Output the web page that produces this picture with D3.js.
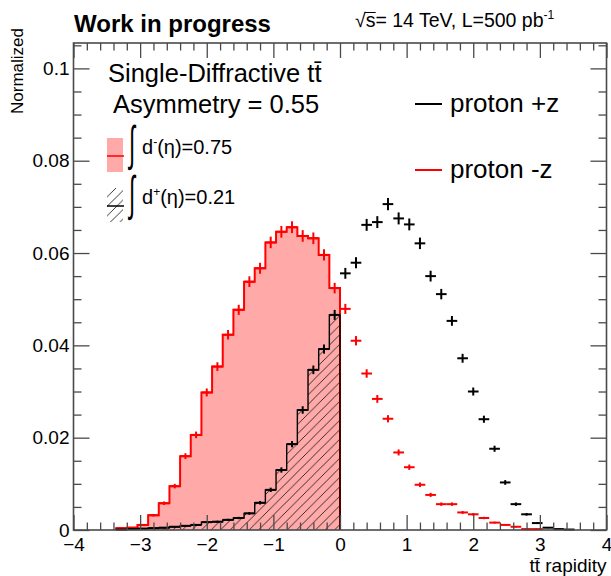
<!DOCTYPE html>
<html><head><meta charset="utf-8">
<script src="https://cdn.jsdelivr.net/npm/d3@7"></script>
<style>
html,body{margin:0;padding:0;background:#fff;}
svg{display:block;font-family:"Liberation Sans",Arial,Helvetica,sans-serif;}
</style></head><body>
<svg id="c" width="611" height="576"></svg>
<script>
// rapidity binning: 50 bins of 0.16 on [-4, 4]
const binWidth = 0.16;
const negCenters = [-3.28,-3.12,-2.96,-2.80,-2.64,-2.48,-2.32,-2.16,-2.00,-1.84,-1.68,-1.52,-1.36,-1.20,-1.04,-0.88,-0.72,-0.56,-0.40,-0.24,-0.08];
const posCenters = [0.08,0.24,0.40,0.56,0.72,0.88,1.04,1.20,1.36,1.52,1.68,1.84,2.00,2.16,2.32,2.48,2.64,2.80,2.96,3.12,3.28,3.44];

// proton -z (red)
const minusNeg    = [0.0004,0.0005,0.0011,0.0032,0.0058,0.0095,0.0160,0.0206,0.0298,0.0354,0.0423,0.0477,0.0538,0.0567,0.0623,0.0646,0.0656,0.0637,0.0632,0.0596,0.0524];
const minusNegErr = [0.0001,0.00011,0.00017,0.00028,0.00038,0.00049,0.00063,0.00072,0.00086,0.00094,0.00103,0.00109,0.00116,0.00119,0.00125,0.00127,0.00128,0.00126,0.00126,0.00122,0.00114];
const minusPos    = [0.0479,0.0410,0.0339,0.0284,0.0241,0.0168,0.0136,0.0098,0.0076,0.0056,0.0056,0.0038,0.0034,0.0026,0.0016,0.0011,0.0007,0.0002,0.0002];
const minusPosErr = [0.00109,0.00101,0.00092,0.00084,0.00078,0.00065,0.00058,0.0005,0.00044,0.00037,0.00037,0.00031,0.00029,0.00026,0.0002,0.00017,0.00013,0.00007,0.00007];

// proton +z (black)
const plusNeg    = [0.0001,0.0002,0.0003,0.0004,0.0005,0.0007,0.0009,0.0011,0.0017,0.0018,0.0022,0.0026,0.0036,0.0059,0.0087,0.0130,0.0186,0.0260,0.0347,0.0392,0.0466];
const plusNegErr = [0.00005,0.00007,0.00009,0.0001,0.00011,0.00013,0.00015,0.00017,0.00021,0.00021,0.00023,0.00025,0.0003,0.00038,0.00047,0.00057,0.00068,0.00081,0.00093,0.00099,0.00108];
const plusPos    = [0.0556,0.0579,0.0661,0.0667,0.0706,0.0675,0.0662,0.0621,0.0550,0.0511,0.0453,0.0372,0.0300,0.0240,0.0176,0.0103,0.0056,0.0034,0.0015,0.0005,0.0002,0.0001];
const plusPosErr = [0.00118,0.0012,0.00129,0.00129,0.00133,0.0013,0.00129,0.00125,0.00117,0.00113,0.00106,0.00096,0.00087,0.00077,0.00066,0.00051,0.00037,0.00029,0.00019,0.00011,0.00007,0.00005];

const xTicks = [-4,-3,-2,-1,0,1,2,3,4];
const xTickLabels = ["\u22124","\u22123","\u22122","\u22121","0","1","2","3","4"];
const yTicks = [0,0.02,0.04,0.06,0.08,0.1];
const yTickLabels = ["0","0.02","0.04","0.06","0.08","0.1"];

const RED = "#ff0000";
const PINK = "#ffa9a9";
const AXC = "#4a4a4a";

const svg = d3.select("#c");
const frame = {l:73.5, r:606.5, t:43, b:530};
const x = d3.scaleLinear().domain([-4,4]).range([frame.l, frame.r]);
const y = d3.scaleLinear().domain([0,0.1055]).range([frame.b, frame.t]);

// 45-degree hatching for the +z histogram
const defs = svg.append("defs");
const hs = 9.5;
const hatch = defs.append("pattern").attr("id","hatch").attr("patternUnits","userSpaceOnUse")
  .attr("width",hs).attr("height",hs);
hatch.append("path").attr("d",`M0,${hs} L${hs},0 M${-hs/2},${hs/2} L${hs/2},${-hs/2} M${hs/2},${hs*1.5} L${hs*1.5},${hs/2}`)
  .attr("stroke","#222").attr("stroke-width",0.9).attr("fill","none");

// step histogram helpers
function stepPoints(centers, vals){
  const pts = [[centers[0]-binWidth/2, 0]];
  vals.forEach((v,i) => { pts.push([centers[i]-binWidth/2, v]); pts.push([centers[i]+binWidth/2, v]); });
  pts.push([centers[vals.length-1]+binWidth/2, 0]);
  return pts;
}
const line = d3.line().x(d => x(d[0])).y(d => y(d[1]));
const area = d3.area().x(d => x(d[0])).y0(y(0)).y1(d => y(d[1]));

const plot = svg.append("g");
const redPts = stepPoints(negCenters, minusNeg);
const blkPts = stepPoints(negCenters, plusNeg);
plot.append("path").attr("d", area(redPts)).attr("fill",PINK);
plot.append("path").attr("d", area(blkPts)).attr("fill","url(#hatch)");
plot.append("path").attr("d", line(redPts)).attr("fill","none").attr("stroke",RED).attr("stroke-width",2);
plot.append("path").attr("d", line(blkPts)).attr("fill","none").attr("stroke","#000").attr("stroke-width",1.4);

// error crosses
function crosses(centers, vals, errs, color){
  const g = plot.append("g").attr("stroke",color).attr("stroke-width",2);
  vals.forEach((v,i) => {
    const c = centers[i];
    g.append("line").attr("x1",x(c-binWidth/2)).attr("x2",x(c+binWidth/2)).attr("y1",y(v)).attr("y2",y(v));
    g.append("line").attr("x1",x(c)).attr("x2",x(c)).attr("y1",y(v-errs[i])).attr("y2",y(v+errs[i]));
  });
}
crosses(negCenters, minusNeg, minusNegErr, RED);
crosses(posCenters, minusPos, minusPosErr, RED);
crosses(negCenters, plusNeg, plusNegErr, "#000");
crosses(posCenters, plusPos, plusPosErr, "#000");

// axes: ticks drawn inside the frame on all four sides
const xMinor = d3.range(-4, 4.001, 0.2).filter(v => Math.abs(v - Math.round(v)) > 1e-6);
const yMinor = d3.range(0, 0.1051, 0.005).filter(v => Math.abs(v/0.02 - Math.round(v/0.02)) > 1e-6);
function styleAxis(g){
  g.select(".domain").remove();
  g.selectAll("line").attr("stroke",AXC).attr("stroke-width",1.3);
  g.selectAll("text").attr("fill","#000").style("font-family",'"Liberation Sans",Arial,sans-serif');
}
svg.append("g").attr("transform",`translate(0,${frame.b})`)
  .call(d3.axisBottom(x).tickValues(xTicks).tickSize(-15).tickPadding(8).tickFormat((d,i)=>xTickLabels[i]))
  .call(styleAxis).selectAll("text").style("font-size","19px");
svg.append("g").attr("transform",`translate(0,${frame.b})`)
  .call(d3.axisBottom(x).tickValues(xMinor).tickSize(-7.5).tickFormat("")).call(styleAxis);
svg.append("g").attr("transform",`translate(0,${frame.t})`)
  .call(d3.axisTop(x).tickValues(xTicks).tickSize(-15).tickFormat("")).call(styleAxis);
svg.append("g").attr("transform",`translate(0,${frame.t})`)
  .call(d3.axisTop(x).tickValues(xMinor).tickSize(-7.5).tickFormat("")).call(styleAxis);
svg.append("g").attr("transform",`translate(${frame.l},0)`)
  .call(d3.axisLeft(y).tickValues(yTicks).tickSize(-16).tickPadding(4).tickFormat((d,i)=>yTickLabels[i]))
  .call(styleAxis).selectAll("text").style("font-size","19px");
svg.append("g").attr("transform",`translate(${frame.l},0)`)
  .call(d3.axisLeft(y).tickValues(yMinor).tickSize(-8).tickFormat("")).call(styleAxis);
svg.append("g").attr("transform",`translate(${frame.r},0)`)
  .call(d3.axisRight(y).tickValues(yTicks).tickSize(-16).tickFormat("")).call(styleAxis);
svg.append("g").attr("transform",`translate(${frame.r},0)`)
  .call(d3.axisRight(y).tickValues(yMinor).tickSize(-8).tickFormat("")).call(styleAxis);
svg.append("rect").attr("x",frame.l).attr("y",frame.t).attr("width",frame.r-frame.l).attr("height",frame.b-frame.t)
  .attr("fill","none").attr("stroke",AXC).attr("stroke-width",1.6);

// axis titles
svg.append("text").attr("x",frame.r).attr("y",572).attr("text-anchor","end")
  .style("font-size","19px").text("tt\u0304 rapidity");
svg.append("text").attr("transform","translate(23,28) rotate(-90)").attr("text-anchor","end")
  .style("font-size","17px").text("Normalized");

// header
svg.append("text").attr("x",74).attr("y",32).style("font-size","24px").style("font-weight","bold").text("Work in progress");
const en = svg.append("text").attr("x",355).attr("y",27).style("font-size","19.5px");
en.append("tspan").text("\u221A");
const sArg = en.append("tspan").text("s");
en.append("tspan").text("= 14 TeV, L=500 pb");
en.append("tspan").attr("dy",-8).style("font-size","12px").text("-1");
// bar of the square root over its argument
const sb = sArg.node().getBBox();
svg.append("line").attr("x1",sb.x - 1).attr("x2",sb.x + sb.width).attr("y1",sb.y + 3.5).attr("y2",sb.y + 3.5)
  .attr("stroke","#000").attr("stroke-width",1);

// legend block (left)
svg.append("text").attr("x",108).attr("y",82).style("font-size","25.5px").text("Single-Diffractive t\u0074\u0304");
svg.append("text").attr("x",113).attr("y",113).style("font-size","25.5px").text("Asymmetry = 0.55");

const legL = [
  {fill:PINK, lineColor:RED, sup:"-", value:"0.75", y0:138},
  {fill:"url(#hatch)", lineColor:"#000", sup:"+", value:"0.21", y0:188}
];
legL.forEach(e => {
  svg.append("rect").attr("x",107).attr("y",e.y0).attr("width",16).attr("height",34).attr("fill",e.fill);
  svg.append("line").attr("x1",107).attr("x2",124).attr("y1",e.y0+18).attr("y2",e.y0+18)
    .attr("stroke",e.lineColor).attr("stroke-width",1.5);
  svg.append("text").attr("transform",`translate(129,${e.y0+22}) scale(1,2.2)`).style("font-size","22px").text("\u222B");
  const t = svg.append("text").attr("x",142).attr("y",e.y0+16).style("font-size","20px");
  t.append("tspan").text("d");
  t.append("tspan").attr("dy",-8).style("font-size","12px").text(e.sup);
  t.append("tspan").attr("dy",8).text("(\u03B7)=" + e.value);
});

// legend block (right)
const legR = [
  {label:"proton +z", color:"#000", y:104},
  {label:"proton -z", color:RED, y:170}
];
legR.forEach(e => {
  svg.append("line").attr("x1",415).attr("x2",442).attr("y1",e.y).attr("y2",e.y).attr("stroke",e.color).attr("stroke-width",2);
  svg.append("text").attr("x",450).attr("y",e.y+8).style("font-size","26px").text(e.label);
});
</script>
</body></html>
